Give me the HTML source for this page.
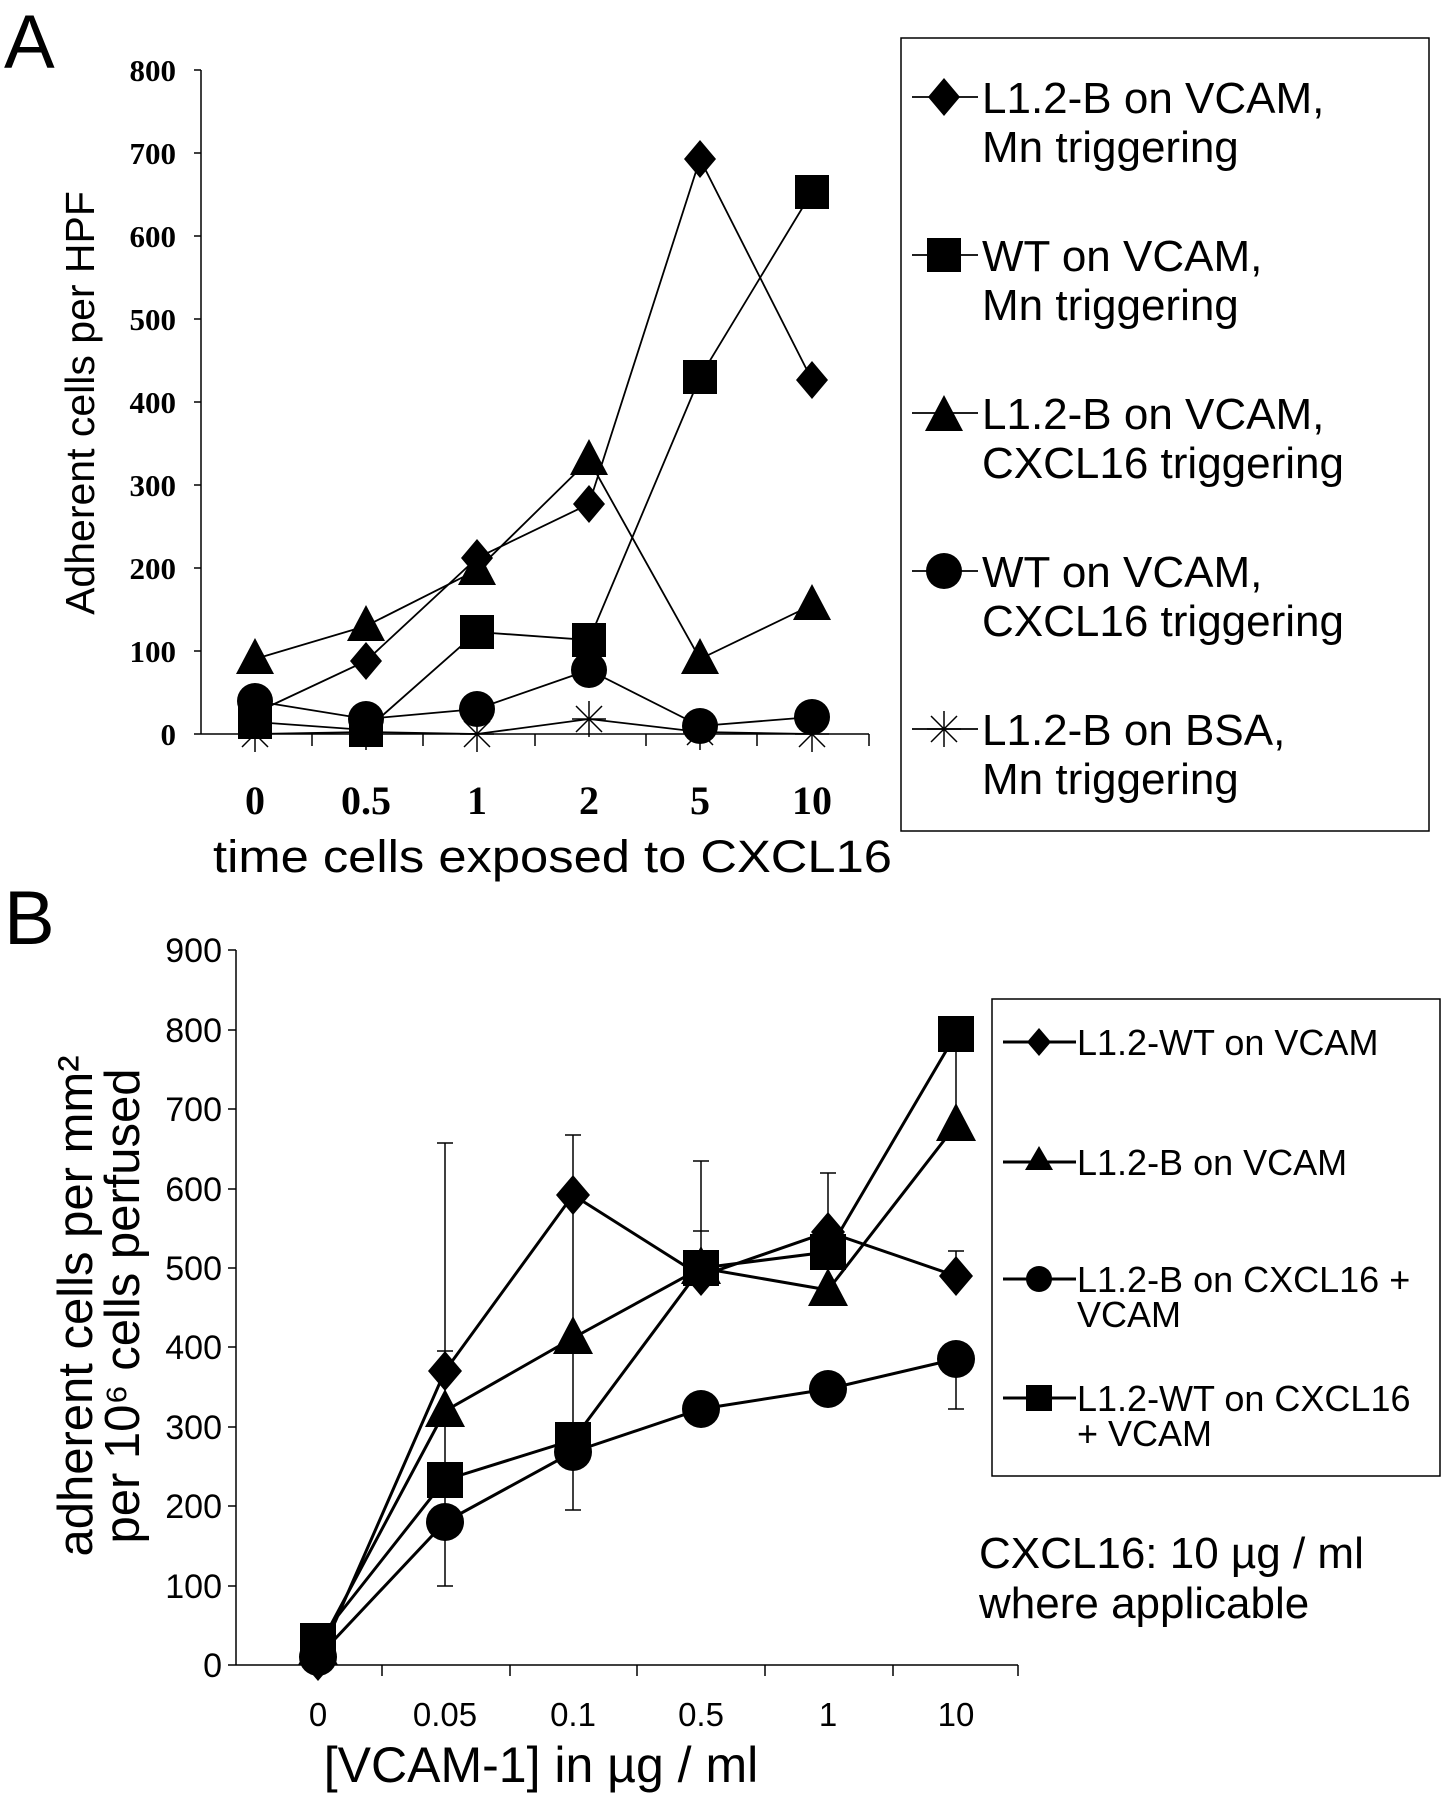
<!DOCTYPE html>
<html><head><meta charset="utf-8"><style>
html,body{margin:0;padding:0;background:#fff}
svg{display:block}
.sa{font-family:"Liberation Sans",Arial,sans-serif}
.sr{font-family:"Liberation Serif","Times New Roman",serif;font-weight:bold}
</style></head><body>
<svg width="1445" height="1800" viewBox="0 0 1445 1800" xmlns="http://www.w3.org/2000/svg">
<defs>
<polygon id="dA" points="0,-19 16,0 0,19 -16,0" fill="#000"/>
<rect id="sA" x="-17" y="-17" width="34" height="34" fill="#000"/>
<polygon id="tA" points="0,-21 19,15 -19,15" fill="#000"/>
<circle id="cA" r="18" fill="#000"/>
<g id="xA" stroke="#000" stroke-width="1.5"><line x1="-17" y1="0" x2="17" y2="0"/><line x1="0" y1="-18" x2="0" y2="18"/><line x1="-13" y1="-13" x2="13" y2="13"/><line x1="-13" y1="13" x2="13" y2="-13"/></g>
<polygon id="dB" points="0,-20 17,0 0,20 -17,0" fill="#000"/>
<rect id="sB" x="-18" y="-18" width="36" height="36" fill="#000"/>
<polygon id="tB" points="0,-22 20,16 -20,16" fill="#000"/>
<circle id="cB" r="19" fill="#000"/>
</defs>

<!-- ===== Panel A ===== -->
<text x="4" y="68" class="sa" font-size="76">A</text>
<g stroke="#000" stroke-width="1.5" fill="none">
<line x1="201" y1="70" x2="201" y2="734"/>
<line x1="201" y1="734" x2="869" y2="734"/>
<line x1="194" y1="734" x2="201" y2="734"/><line x1="194" y1="651" x2="201" y2="651"/><line x1="194" y1="568" x2="201" y2="568"/><line x1="194" y1="485" x2="201" y2="485"/><line x1="194" y1="402" x2="201" y2="402"/><line x1="194" y1="319" x2="201" y2="319"/><line x1="194" y1="236" x2="201" y2="236"/><line x1="194" y1="153" x2="201" y2="153"/><line x1="194" y1="70" x2="201" y2="70"/>
<line x1="312" y1="734" x2="312" y2="746"/><line x1="423" y1="734" x2="423" y2="746"/><line x1="535" y1="734" x2="535" y2="746"/><line x1="646" y1="734" x2="646" y2="746"/><line x1="757" y1="734" x2="757" y2="746"/><line x1="869" y1="734" x2="869" y2="746"/>
</g>
<g class="sr" font-size="31" text-anchor="end">
<text x="176" y="745">0</text><text x="176" y="662">100</text><text x="176" y="579">200</text><text x="176" y="496">300</text><text x="176" y="413">400</text><text x="176" y="330">500</text><text x="176" y="247">600</text><text x="176" y="164">700</text><text x="176" y="81">800</text>
</g>
<g class="sr" font-size="40" text-anchor="middle">
<text x="255" y="814">0</text><text x="366" y="814">0.5</text><text x="477" y="814">1</text><text x="589" y="814">2</text><text x="700" y="814">5</text><text x="812" y="814">10</text>
</g>
<text x="213" y="872" class="sa" font-size="45" textLength="679" lengthAdjust="spacingAndGlyphs">time cells exposed to CXCL16</text>
<text transform="translate(94,403) rotate(-90)" class="sa" font-size="41" text-anchor="middle">Adherent cells per HPF</text>

<g stroke="#000" stroke-width="1.8" fill="none">
<polyline points="255,713 366,661 477,558 589,504 700,159 812,380"/>
<polyline points="255,722 366,730 477,632 589,640 700,377 812,192"/>
<polyline points="255,659 366,626 477,570 589,460 700,659 812,605"/>
<polyline points="255,701 366,719 477,709 589,670 700,726 812,717"/>
<polyline points="255,734 366,732 477,734 589,719 700,732 812,734"/>
</g>
<use href="#dA" x="255" y="713"/><use href="#dA" x="366" y="661"/><use href="#dA" x="477" y="558"/><use href="#dA" x="589" y="504"/><use href="#dA" x="700" y="159"/><use href="#dA" x="812" y="380"/>
<use href="#sA" x="255" y="722"/><use href="#sA" x="366" y="730"/><use href="#sA" x="477" y="632"/><use href="#sA" x="589" y="640"/><use href="#sA" x="700" y="377"/><use href="#sA" x="812" y="192"/>
<use href="#tA" x="255" y="659"/><use href="#tA" x="366" y="626"/><use href="#tA" x="477" y="570"/><use href="#tA" x="589" y="460"/><use href="#tA" x="700" y="659"/><use href="#tA" x="812" y="605"/>
<use href="#cA" x="255" y="701"/><use href="#cA" x="366" y="719"/><use href="#cA" x="477" y="709"/><use href="#cA" x="589" y="670"/><use href="#cA" x="700" y="726"/><use href="#cA" x="812" y="717"/>
<use href="#xA" x="255" y="734"/><use href="#xA" x="366" y="732"/><use href="#xA" x="477" y="734"/><use href="#xA" x="589" y="719"/><use href="#xA" x="700" y="732"/><use href="#xA" x="812" y="734"/>

<rect x="901" y="38" width="528" height="793" fill="none" stroke="#000" stroke-width="1.5"/>
<g stroke="#000" stroke-width="1.8">
<line x1="912" y1="97" x2="978" y2="97"/><line x1="912" y1="255" x2="978" y2="255"/><line x1="912" y1="413" x2="978" y2="413"/><line x1="912" y1="571" x2="978" y2="571"/><line x1="912" y1="729" x2="978" y2="729"/>
</g>
<use href="#dA" x="944" y="97"/><use href="#sA" x="944" y="255"/><use href="#tA" x="944" y="416"/><use href="#cA" x="944" y="571"/><use href="#xA" x="944" y="729"/>
<g class="sa" font-size="44">
<text x="982" y="113">L1.2-B on VCAM,</text><text x="982" y="162">Mn triggering</text>
<text x="982" y="271">WT on VCAM,</text><text x="982" y="320">Mn triggering</text>
<text x="982" y="429">L1.2-B on VCAM,</text><text x="982" y="478">CXCL16 triggering</text>
<text x="982" y="587">WT on VCAM,</text><text x="982" y="636">CXCL16 triggering</text>
<text x="982" y="745">L1.2-B on BSA,</text><text x="982" y="794">Mn triggering</text>
</g>

<!-- ===== Panel B ===== -->
<text x="4" y="944" class="sa" font-size="76">B</text>
<g stroke="#000" stroke-width="1.5" fill="none">
<line x1="236" y1="950" x2="236" y2="1665"/>
<line x1="236" y1="1665" x2="1018" y2="1665"/>
<line x1="228" y1="1665" x2="236" y2="1665"/><line x1="228" y1="1586" x2="236" y2="1586"/><line x1="228" y1="1506" x2="236" y2="1506"/><line x1="228" y1="1427" x2="236" y2="1427"/><line x1="228" y1="1347" x2="236" y2="1347"/><line x1="228" y1="1268" x2="236" y2="1268"/><line x1="228" y1="1189" x2="236" y2="1189"/><line x1="228" y1="1109" x2="236" y2="1109"/><line x1="228" y1="1030" x2="236" y2="1030"/><line x1="228" y1="950" x2="236" y2="950"/>
<line x1="382" y1="1665" x2="382" y2="1676"/><line x1="510" y1="1665" x2="510" y2="1676"/><line x1="637" y1="1665" x2="637" y2="1676"/><line x1="765" y1="1665" x2="765" y2="1676"/><line x1="893" y1="1665" x2="893" y2="1676"/><line x1="1018" y1="1665" x2="1018" y2="1676"/>
</g>
<g class="sa" font-size="34" text-anchor="end">
<text x="222" y="1677">0</text><text x="222" y="1598">100</text><text x="222" y="1518">200</text><text x="222" y="1439">300</text><text x="222" y="1359">400</text><text x="222" y="1280">500</text><text x="222" y="1201">600</text><text x="222" y="1121">700</text><text x="222" y="1042">800</text><text x="222" y="962">900</text>
</g>
<g class="sa" font-size="33" text-anchor="middle">
<text x="318" y="1726">0</text><text x="445" y="1726">0.05</text><text x="573" y="1726">0.1</text><text x="701" y="1726">0.5</text><text x="828" y="1726">1</text><text x="956" y="1726">10</text>
</g>
<text x="541" y="1782" class="sa" font-size="50" text-anchor="middle">[VCAM-1] in µg / ml</text>
<text transform="translate(92,1306) rotate(-90)" class="sa" font-size="49" text-anchor="middle">adherent cells per mm²</text>
<text transform="translate(139,1306) rotate(-90)" class="sa" font-size="49" text-anchor="middle">per 10⁶ cells perfused</text>

<g stroke="#000" stroke-width="1.5">
<line x1="445" y1="1586" x2="445" y2="1143"/><line x1="437" y1="1586" x2="453" y2="1586"/><line x1="437" y1="1143" x2="453" y2="1143"/><line x1="437" y1="1351" x2="453" y2="1351"/>
<line x1="573" y1="1510" x2="573" y2="1135"/><line x1="565" y1="1135" x2="581" y2="1135"/><line x1="565" y1="1510" x2="581" y2="1510"/>
<line x1="701" y1="1268" x2="701" y2="1161"/><line x1="693" y1="1161" x2="709" y2="1161"/><line x1="693" y1="1231" x2="709" y2="1231"/>
<line x1="828" y1="1232" x2="828" y2="1173"/><line x1="820" y1="1173" x2="836" y2="1173"/>
<line x1="956" y1="1276" x2="956" y2="1251"/><line x1="948" y1="1251" x2="964" y2="1251"/>
<line x1="956" y1="1359" x2="956" y2="1409"/><line x1="948" y1="1409" x2="964" y2="1409"/>
<line x1="956" y1="1125" x2="956" y2="1034"/>
</g>
<g stroke="#000" stroke-width="3" fill="none">
<polyline points="318,1661 445,1371 573,1195 701,1276 828,1232 956,1276"/>
<polyline points="318,1641 445,1480 573,1440 701,1268 828,1252 956,1034"/>
<polyline points="318,1649 445,1411 573,1338 701,1268 828,1290 956,1125"/>
<polyline points="318,1657 445,1522 573,1452 701,1409 828,1389 956,1359"/>
</g>
<use href="#dB" x="318" y="1661"/><use href="#dB" x="445" y="1371"/><use href="#dB" x="573" y="1195"/><use href="#dB" x="701" y="1276"/><use href="#dB" x="828" y="1232"/><use href="#dB" x="956" y="1276"/>
<use href="#sB" x="318" y="1641"/><use href="#sB" x="445" y="1480"/><use href="#sB" x="573" y="1440"/><use href="#sB" x="701" y="1268"/><use href="#sB" x="828" y="1252"/><use href="#sB" x="956" y="1034"/>
<use href="#tB" x="318" y="1649"/><use href="#tB" x="445" y="1411"/><use href="#tB" x="573" y="1338"/><use href="#tB" x="701" y="1268"/><use href="#tB" x="828" y="1290"/><use href="#tB" x="956" y="1125"/>
<use href="#cB" x="318" y="1657"/><use href="#cB" x="445" y="1522"/><use href="#cB" x="573" y="1452"/><use href="#cB" x="701" y="1409"/><use href="#cB" x="828" y="1389"/><use href="#cB" x="956" y="1359"/>

<rect x="992" y="999" width="448" height="477" fill="none" stroke="#000" stroke-width="1.5"/>
<g stroke="#000" stroke-width="3">
<line x1="1003" y1="1042" x2="1076" y2="1042"/><line x1="1003" y1="1162" x2="1076" y2="1162"/><line x1="1003" y1="1279" x2="1076" y2="1279"/><line x1="1003" y1="1398" x2="1076" y2="1398"/>
</g>
<polygon points="1039,1028 1051,1042 1039,1056 1027,1042" fill="#000"/>
<polygon points="1039,1146 1053,1170 1025,1170" fill="#000"/>
<circle cx="1039" cy="1279" r="13" fill="#000"/>
<rect x="1026" y="1385" width="26" height="26" fill="#000"/>
<g class="sa" font-size="36">
<text x="1077" y="1055">L1.2-WT on VCAM</text>
<text x="1077" y="1175">L1.2-B on VCAM</text>
<text x="1077" y="1292">L1.2-B on CXCL16 +</text><text x="1077" y="1327">VCAM</text>
<text x="1077" y="1411">L1.2-WT on CXCL16</text><text x="1077" y="1446">+ VCAM</text>
</g>
<g class="sa" font-size="44">
<text x="979" y="1568">CXCL16: 10 µg / ml</text>
<text x="979" y="1618">where applicable</text>
</g>
</svg>
</body></html>
